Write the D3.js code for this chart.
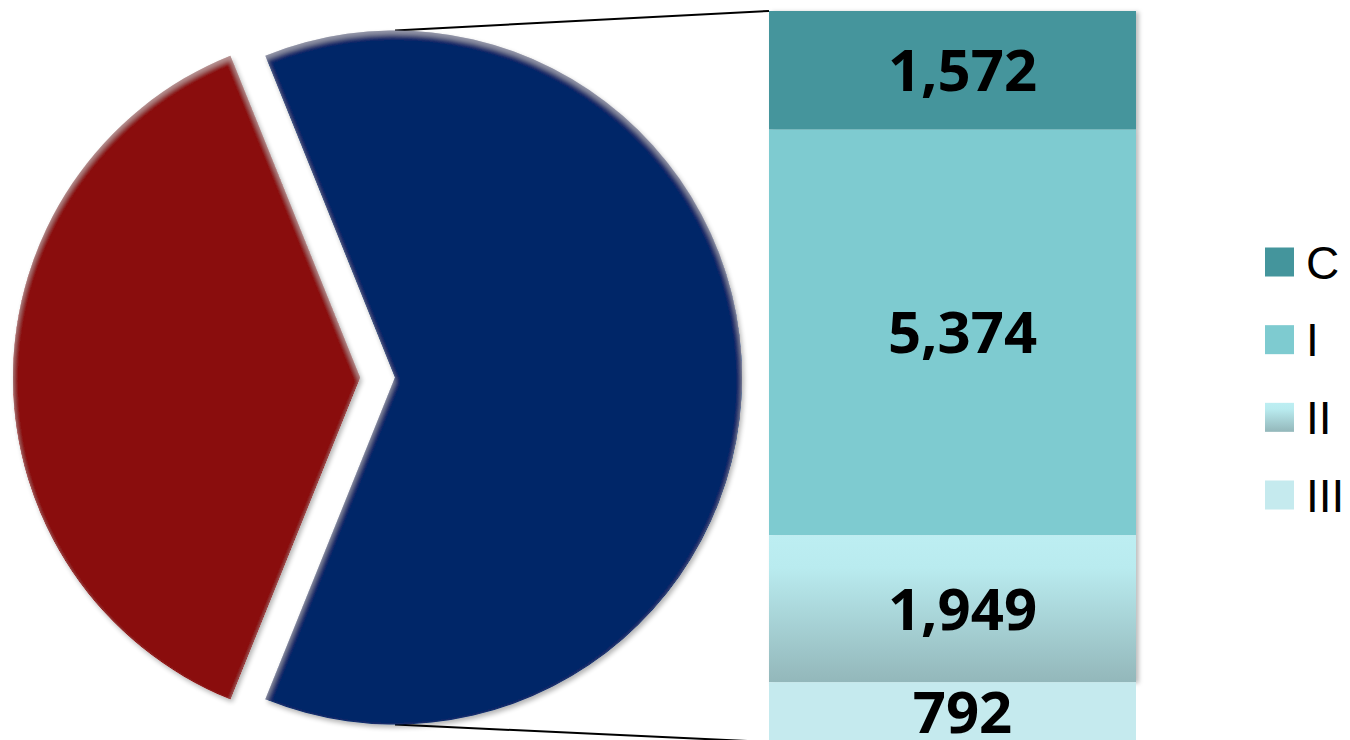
<!DOCTYPE html>
<html>
<head>
<meta charset="utf-8">
<script src="https://cdn.jsdelivr.net/npm/d3@7"></script>
<style>
  html, body { margin: 0; padding: 0; background: #fff; }
  svg { display: block; }
  .bar-label { font-family: "Open Sans", sans-serif; font-weight: 700; font-size: 58px; fill: #000; }
  .legend text { font-family: "Liberation Sans", Arial, sans-serif; font-size: 46px; fill: #000; }
</style>
</head>
<body>
<svg id="chart" width="1350" height="740"></svg>
<script>
// bar (breakdown of the blue slice)
var barCategories = ["C", "I", "II", "III"];
var barValues = [1572, 5374, 1949, 792];
var barLabels = ["1,572", "5,374", "1,949", "792"];
var barColors = ["#44959c", "#7ecbd0", "url(#gradII)", "#c5eaee"];

// pie: the red slice, and the blue "other" slice which is the bar total
var pieNames = ["main", "other"];
var pieValues = [5890, d3.sum(barValues)];
var pieColors = ["#8a0707", "#062868"];

var W = 1350, H = 740;
var svg = d3.select('#chart');
var defs = svg.append('defs');

// gradient for segment II
var g2 = defs.append('linearGradient')
  .attr('id', 'gradII').attr('x1', 0).attr('y1', 0).attr('x2', 0).attr('y2', 1);
g2.append('stop').attr('offset', '0%').attr('stop-color', '#bdeef2');
g2.append('stop').attr('offset', '22%').attr('stop-color', '#b9ebef');
g2.append('stop').attr('offset', '100%').attr('stop-color', '#93b7ba');

// light rim on the upper edges + soft shadow for the slices
var bevel = defs.append('filter').attr('id', 'bevel')
  .attr('x', '-10%').attr('y', '-10%').attr('width', '120%').attr('height', '120%');
bevel.append('feGaussianBlur').attr('in', 'SourceAlpha').attr('stdDeviation', 2.5).attr('result', 'blur');
bevel.append('feOffset').attr('in', 'blur').attr('dx', 0).attr('dy', 4).attr('result', 'offBlur');
bevel.append('feComposite').attr('in', 'SourceAlpha').attr('in2', 'offBlur')
  .attr('operator', 'arithmetic').attr('k1', 0).attr('k2', 1).attr('k3', -1).attr('k4', 0).attr('result', 'rim');
bevel.append('feFlood').attr('flood-color', '#ffffff').attr('flood-opacity', 0.3).attr('result', 'white');
bevel.append('feComposite').attr('in', 'white').attr('in2', 'rim').attr('operator', 'in').attr('result', 'hl');
bevel.append('feGaussianBlur').attr('in', 'SourceAlpha').attr('stdDeviation', 2.5).attr('result', 'sblur');
bevel.append('feOffset').attr('in', 'sblur').attr('dx', 2).attr('dy', 3).attr('result', 'soff');
bevel.append('feComponentTransfer').attr('in', 'soff').attr('result', 'sh')
  .append('feFuncA').attr('type', 'linear').attr('slope', 0.3);
var bm = bevel.append('feMerge');
bm.append('feMergeNode').attr('in', 'sh');
bm.append('feMergeNode').attr('in', 'SourceGraphic');
bm.append('feMergeNode').attr('in', 'hl');

// bar shadow
var bsh = defs.append('filter').attr('id', 'barShadow')
  .attr('x', '-5%').attr('y', '-5%').attr('width', '115%').attr('height', '110%');
bsh.append('feDropShadow').attr('dx', 3).attr('dy', 1).attr('stdDeviation', 2)
  .attr('flood-color', '#000').attr('flood-opacity', 0.25);

// ---- pie ----
var cx = 377.5, cy = 377.5, r = 347, explode = 17.5;
var redSpan = 2 * Math.PI * pieValues[0] / d3.sum(pieValues);
var start = 1.5 * Math.PI - redSpan / 2;   // red centred on the left

var pie = d3.pie().sort(null).startAngle(start).endAngle(start + 2 * Math.PI);
var arc = d3.arc().innerRadius(0).outerRadius(r);
var slices = pie(pieValues);

function sliceCenter(d) {
  var mid = (d.startAngle + d.endAngle) / 2;
  return [cx + explode * Math.sin(mid), cy - explode * Math.cos(mid)];
}

// ---- bar ----
var barX = 769, barW = 367;
var y = d3.scaleLinear().domain([0, d3.sum(barValues)]).range([11, 742]);
var stacked = [];
var acc = 0;
barValues.forEach(function(v, i) {
  stacked.push({ cat: barCategories[i], v: v, y0: acc, y1: acc + v, label: barLabels[i], color: barColors[i] });
  acc += v;
});

// connector lines (from top/bottom of the other slice to the bar corners)
var oc = sliceCenter(slices[1]);
svg.append('line')
  .attr('x1', oc[0]).attr('y1', oc[1] - r).attr('x2', barX).attr('y2', y(0))
  .attr('stroke', '#000').attr('stroke-width', 2);
svg.append('line')
  .attr('x1', oc[0]).attr('y1', oc[1] + r).attr('x2', barX).attr('y2', y(d3.sum(barValues)))
  .attr('stroke', '#000').attr('stroke-width', 2);

svg.append('g').selectAll('path')
  .data(slices)
  .join('path')
  .attr('transform', function(d) { return 'translate(' + sliceCenter(d) + ')'; })
  .attr('d', arc)
  .attr('fill', function(d, i) { return pieColors[i]; })
  .attr('filter', 'url(#bevel)');

var barG = svg.append('g');
var shadowed = barG.append('g').attr('filter', 'url(#barShadow)');
stacked.forEach(function(s, i) {
  var target = i < 3 ? shadowed : barG;
  target.append('rect')
    .attr('x', barX).attr('y', y(s.y0))
    .attr('width', barW).attr('height', y(s.y1) - y(s.y0))
    .attr('fill', s.color);
});

// labels sit a little right of the bar centre, the last one near the bottom edge
barG.selectAll('text')
  .data(stacked)
  .join('text')
  .attr('class', 'bar-label')
  .attr('x', barX + barW / 2 + 10)
  .attr('y', function(d, i) {
    var mid = (y(d.y0) + y(d.y1)) / 2 + 21;
    return Math.min(mid, 734);
  })
  .attr('text-anchor', 'middle')
  .text(function(d) { return d.label; });

// ---- legend ----
var legend = svg.append('g').attr('class', 'legend');
var legY = d3.scalePoint().domain(barCategories).range([262, 495]);
var item = legend.selectAll('g')
  .data(stacked)
  .join('g')
  .attr('transform', function(d) { return 'translate(1265,' + legY(d.cat) + ')'; });
item.append('rect')
  .attr('x', 0).attr('y', -14.5).attr('width', 29).attr('height', 29)
  .attr('fill', function(d) { return d.color; });
item.append('text')
  .attr('x', 41).attr('y', 16.5)
  .text(function(d) { return d.cat; });
</script>
</body>
</html>
